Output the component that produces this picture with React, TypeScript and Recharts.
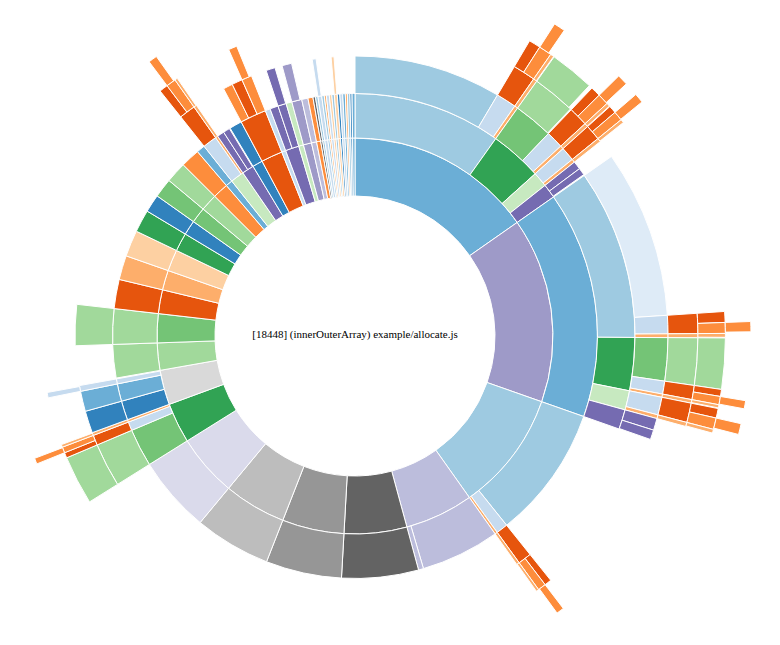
import { PieChart, Pie, Cell } from "recharts"

// [depth, value, function key] in depth-first order, clockwise from 12 o'clock
type Row = [number, number, string]

const fnColor: Record<string, string> = {
  B1: "#3182bd", B2: "#6baed6", B3: "#9ecae1", B4: "#c6dbef", B5: "#deebf7",
  O1: "#e6550d", O2: "#fd8d3c", O3: "#fdae6b", O4: "#fdd0a2",
  G1: "#31a354", G2: "#74c476", G3: "#a1d99b", G4: "#c7e9c0",
  P1: "#756bb1", P2: "#9e9ac8", P3: "#bcbddc", P4: "#dadaeb",
  K1: "#636363", K2: "#969696", K3: "#bdbdbd", K4: "#d9d9d9",
}

const rightUpper: Row[] = [
  [1, 55, "B2"],
  [2, 35.5, "B3"],
  [3, 30.6, "B3"],
  [3, 4.2, "B4"], [4, 4.2, "O1"], [5, 2.0, "O1"], [5, 2.2, "O2"], [6, 1.8, "O2"],
  [3, 0.7, "O3"], [4, 0.7, "O3"], [5, 0.6, "O3"],
  [2, 12.5, "G1"],
  [3, 8.2, "G2"], [4, 8.0, "G3"], [5, 7.6, "G3"],
  [3, 3.6, "B4"], [4, 3.6, "O1"], [5, 1.7, "O1"], [5, 1.9, "O2"], [6, 1.7, "O2"],
  [3, 0.7, "O3"], [4, 0.7, "O3"], [5, 0.6, "O3"],
  [2, 3.6, "G4"],
  [3, 2.9, "B4"], [4, 2.9, "O1"], [5, 1.3, "O1"], [5, 1.6, "O2"], [6, 1.5, "O2"],
  [3, 0.7, "O3"], [4, 0.7, "O3"], [5, 0.6, "O3"],
  [2, 3.4, "P1"], [3, 1.7, "P1"], [3, 1.5, "P1"],
]

const rightLower: Row[] = [
  [1, 54.4, "P2"],
  [2, 54.4, "B2"],
  [3, 35.3, "B3"],
  [4, 31.2, "B5"],
  [4, 3.4, "B4"], [5, 3.4, "O1"], [6, 1.7, "O1"], [6, 1.7, "O2"], [7, 1.5, "O2"],
  [4, 0.7, "O3"], [5, 0.7, "O3"], [6, 0.6, "O3"],
  [3, 11.0, "G1"],
  [4, 8.0, "G2"], [5, 8.0, "G3"], [6, 8.0, "G3"],
  [4, 2.4, "B4"], [5, 2.4, "O1"], [6, 1.1, "O1"], [6, 1.3, "O2"], [7, 1.2, "O2"],
  [4, 0.6, "O3"], [5, 0.6, "O3"], [6, 0.5, "O3"],
  [3, 4.0, "G4"],
  [4, 3.3, "B4"], [5, 3.3, "O1"], [6, 1.5, "O1"], [6, 1.8, "O2"], [7, 1.6, "O2"],
  [4, 0.7, "O3"], [5, 0.7, "O3"], [6, 0.6, "O3"],
  [3, 4.1, "P1"], [4, 2.2, "P1"], [4, 1.8, "P1"],
  [1, 35.3, "B3"],
  [2, 31.9, "B3"],
  [2, 2.8, "B4"], [3, 2.8, "O1"], [4, 1.3, "O1"], [4, 1.5, "O2"], [5, 1.3, "O2"],
  [2, 0.6, "O3"], [3, 0.6, "O3"], [4, 0.5, "O3"],
]

const bottom: Row[] = [
  [1, 20.1, "P3"], [2, 18.9, "P3"], [2, 1.2, "P3"],
  [1, 18.4, "K1"], [2, 18.4, "K1"],
  [1, 18.2, "K2"], [2, 18.2, "K2"],
  [1, 18.3, "K3"], [2, 18.3, "K3"],
  [1, 18.3, "P4"], [2, 18.3, "P4"],
]

const left: Row[] = [
  [1, 11.8, "G1"],
  [2, 9.1, "G2"], [3, 9.1, "G3"], [4, 9.1, "G3"],
  [2, 2.1, "B4"], [3, 2.1, "O1"], [4, 1.0, "O1"], [4, 1.1, "O2"], [5, 1.0, "O2"],
  [2, 0.6, "O3"], [3, 0.6, "O3"], [4, 0.5, "O3"],
  [1, 10.2, "K4"],
  [2, 4.6, "B1"], [3, 4.6, "B1"],
  [2, 4.2, "B2"], [3, 4.2, "B2"],
  [2, 1.2, "B4"], [3, 1.2, "B4"], [4, 1.0, "B4"],
  [1, 8.0, "G3"], [2, 8.0, "G3"],
  [1, 8.5, "G2"], [2, 8.5, "G3"], [3, 8.5, "G3"],
  [1, 7.0, "O1"], [2, 7.0, "O1"],
  [1, 5.8, "O3"], [2, 5.8, "O3"],
  [1, 6.3, "O4"], [2, 6.3, "O4"],
  [1, 5.4, "G1"], [2, 5.4, "G1"],
  [1, 4.3, "B1"], [2, 4.3, "B1"],
  [1, 4.6, "G2"], [2, 4.6, "G2"],
  [1, 5.0, "G3"], [2, 5.0, "G3"],
  [1, 4.6, "O2"], [2, 4.6, "O2"],
]

const leftUpper: Row[] = [
  [1, 2.0, "B2"], [2, 2.0, "B2"],
  [1, 4.0, "G4"],
  [2, 3.4, "B4"], [3, 3.4, "O1"], [4, 1.6, "O1"], [4, 1.8, "O2"], [5, 1.5, "O2"],
  [2, 0.6, "O3"], [3, 0.6, "O3"], [4, 0.5, "O3"],
  [1, 3.5, "P1"], [2, 1.7, "P1"], [2, 1.6, "P1"],
  [1, 3.0, "B1"], [2, 3.0, "B1"],
  [1, 6.3, "O1"], [2, 6.3, "O1"], [3, 2.0, "O2"], [3, 2.2, "O1"], [3, 2.1, "O2"], [4, 1.6, "O2"],
  [1, 1.2, "B4"], [2, 1.2, "B4"],
  [1, 4.0, "P1"], [2, 2.0, "P1"], [2, 2.0, "P1"], [3, 1.9, "P1"],
  [1, 1.4, "G4"], [2, 1.4, "G4"],
  [1, 2.4, "P2"], [2, 2.4, "P2"], [3, 2.0, "P2"],
  [1, 1.5, "P3"], [2, 1.5, "P3"],
  [1, 1.2, "O2"], [2, 1.2, "O2"],
  [1, 0.6, "K1"], [2, 0.6, "K1"],
]

const top: Row[] = [
  [1, 0.6, "B3"], [2, 0.6, "B3"],
  [1, 0.9, "B4"], [2, 0.9, "B4"], [3, 0.8, "B4"],
  [1, 0.6, "B3"], [2, 0.6, "B3"],
  [1, 0.5, "O3"], [2, 0.5, "O3"],
  [1, 0.7, "B4"], [2, 0.7, "B4"],
  [1, 0.6, "O4"], [2, 0.6, "O4"],
  [1, 0.6, "B3"], [2, 0.6, "B3"],
  [1, 0.7, "O4"], [2, 0.7, "O4"], [3, 0.6, "O4"],
  [1, 0.6, "B1"], [2, 0.6, "B1"],
  [1, 0.7, "B4"], [2, 0.7, "B4"],
  [1, 0.6, "B2"], [2, 0.6, "B2"],
  [1, 0.5, "O3"], [2, 0.5, "O3"],
  [1, 0.6, "B3"], [2, 0.6, "B3"],
  [1, 0.5, "B1"], [2, 0.5, "B1"],
  [1, 0.7, "B2"], [2, 0.7, "B2"],
]

const title = "[18448] (innerOuterArray) example/allocate.js"

type Node = { value: number; fn: string; children: Node[] }
type Cellish = { value: number; fill: string }

function buildTree(groups: Row[][]): Node {
  const root: Node = { value: 0, fn: "", children: [] }
  const stack: Node[] = [root]
  groups.forEach((rows) =>
    rows.forEach(([depth, value, fn]) => {
      const node: Node = { value, fn, children: [] }
      stack.length = depth
      stack[depth - 1].children.push(node)
      stack[depth] = node
    })
  )
  root.value = root.children.reduce((s, c) => s + c.value, 0)
  return root
}

// cells of one ring; leftover space of a parent becomes an invisible gap
function ring(node: Node, depth: number, target: number, out: Cellish[]) {
  if (depth === target) {
    out.push({ value: node.value, fill: fnColor[node.fn] })
    return
  }
  let used = 0
  node.children.forEach((c) => {
    ring(c, depth + 1, target, out)
    used += c.value
  })
  const rest = node.value - used
  if (rest > 1e-6) {
    const last = out[out.length - 1]
    if (last && last.fill === "none") last.value += rest
    else out.push({ value: rest, fill: "none" })
  }
}

const tree = buildTree([rightUpper, rightLower, bottom, left, leftUpper, top])
const depths = [1, 2, 3, 4, 5, 6, 7]
const K = 140 // sqrt radius scale: ring d spans K*sqrt(d) .. K*sqrt(d+1)

export default function App() {
  const cx = 347
  const cy = 328
  return (
    <div style={{ position: "relative", width: 764, height: 629 }}>
      <PieChart width={764} height={629} margin={{ top: 0, right: 0, bottom: 0, left: 0 }}>
        {depths.map((d) => {
          const cells: Cellish[] = []
          ring(tree, 0, d, cells)
          return (
            <Pie
              key={d}
              data={cells}
              dataKey="value"
              cx={cx}
              cy={cy}
              innerRadius={K * Math.sqrt(d)}
              outerRadius={K * Math.sqrt(d + 1)}
              startAngle={90}
              endAngle={-270}
              stroke="#fff"
              strokeWidth={1}
              isAnimationActive={false}
            >
              {cells.map((c, i) => (
                <Cell key={i} fill={c.fill} stroke={c.fill === "none" ? "none" : "#fff"} />
              ))}
            </Pie>
          )
        })}
      </PieChart>
      <div
        style={{
          position: "absolute",
          left: 0,
          width: cx * 2,
          top: cy - 8,
          textAlign: "center",
          fontFamily: "'Liberation Serif', serif",
          fontSize: 11,
          color: "#000",
        }}
      >
        {title}
      </div>
    </div>
  )
}
